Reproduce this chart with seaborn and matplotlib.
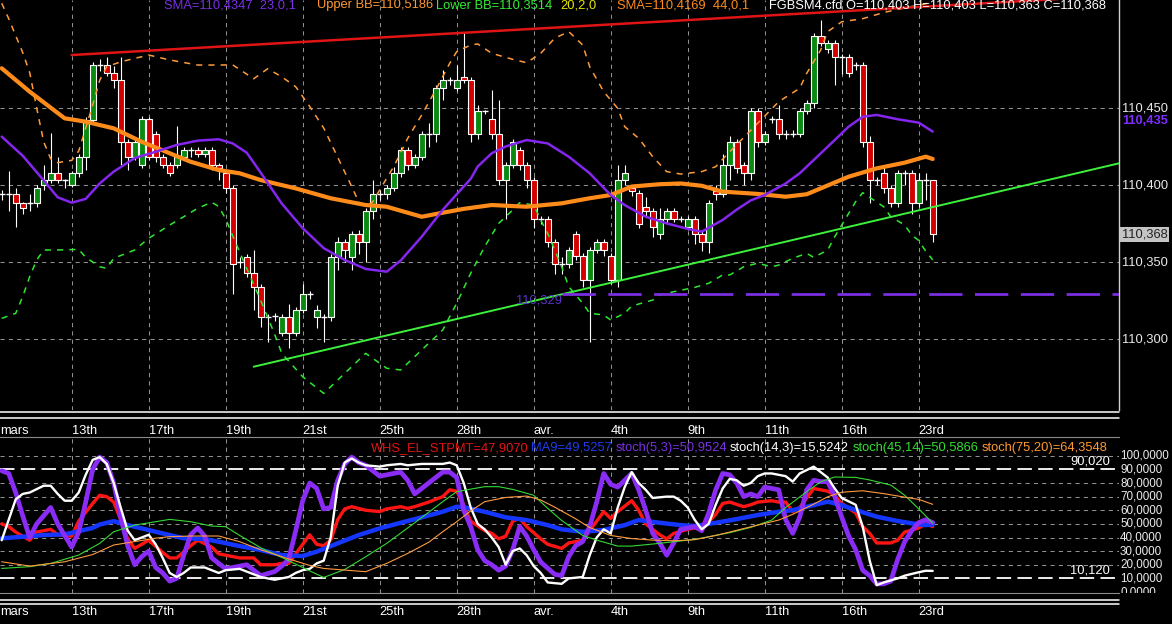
import matplotlib
matplotlib.use("Agg")
import matplotlib.pyplot as plt
import seaborn as sns
from matplotlib.lines import Line2D

# ---- candles, one per bar (bar 0 .. 133) ----
opens = [110.394, 110.394, 110.394, 110.388, 110.388, 110.388, 110.400, 110.403, 110.408, 110.403,
         110.400, 110.408, 110.418, 110.442, 110.478, 110.478, 110.473, 110.468, 110.428, 110.418,
         110.413, 110.443, 110.433, 110.418, 110.413, 110.413, 110.418, 110.423, 110.423, 110.420,
         110.423, 110.413, 110.408, 110.398, 110.350, 110.353, 110.343, 110.334, 110.314, 110.315,
         110.304, 110.314, 110.304, 110.319, 110.329, 110.314, 110.314, 110.314, 110.353, 110.363,
         110.353, 110.368, 110.363, 110.383, 110.394, 110.394, 110.398, 110.408, 110.423, 110.413,
         110.418, 110.433, 110.433, 110.463, 110.468, 110.463, 110.470, 110.468, 110.433, 110.448,
         110.443, 110.433, 110.403, 110.413, 110.423, 110.413, 110.403, 110.378, 110.378, 110.363,
         110.349, 110.349, 110.368, 110.354, 110.338, 110.358, 110.363, 110.354, 110.338, 110.403,
         110.398, 110.395, 110.386, 110.383, 110.368, 110.378, 110.383, 110.378, 110.373, 110.378,
         110.368, 110.363, 110.396, 110.394, 110.413, 110.428, 110.413, 110.408, 110.448, 110.428,
         110.443, 110.443, 110.433, 110.433, 110.433, 110.448, 110.453, 110.497, 110.488, 110.492,
         110.483, 110.483, 110.478, 110.478, 110.428, 110.403, 110.408, 110.398, 110.388, 110.408,
         110.408, 110.388, 110.403, 110.403]
closes = [110.394, 110.394, 110.388, 110.385, 110.388, 110.398, 110.403, 110.408, 110.403, 110.403,
          110.408, 110.418, 110.442, 110.478, 110.478, 110.473, 110.468, 110.428, 110.418, 110.428,
          110.443, 110.418, 110.418, 110.413, 110.408, 110.418, 110.423, 110.423, 110.420, 110.423,
          110.413, 110.411, 110.398, 110.349, 110.350, 110.343, 110.334, 110.314, 110.314, 110.315,
          110.314, 110.304, 110.319, 110.329, 110.329, 110.319, 110.314, 110.353, 110.363, 110.358,
          110.368, 110.363, 110.383, 110.394, 110.394, 110.398, 110.408, 110.423, 110.413, 110.418,
          110.433, 110.433, 110.463, 110.468, 110.468, 110.468, 110.468, 110.433, 110.448, 110.448,
          110.433, 110.403, 110.413, 110.428, 110.413, 110.403, 110.378, 110.378, 110.363, 110.349,
          110.349, 110.358, 110.354, 110.338, 110.358, 110.363, 110.358, 110.338, 110.403, 110.408,
          110.396, 110.375, 110.383, 110.373, 110.378, 110.383, 110.378, 110.378, 110.378, 110.368,
          110.363, 110.388, 110.394, 110.413, 110.428, 110.411, 110.408, 110.448, 110.428, 110.433,
          110.443, 110.433, 110.433, 110.433, 110.448, 110.453, 110.497, 110.492, 110.492, 110.483,
          110.483, 110.473, 110.478, 110.428, 110.403, 110.403, 110.398, 110.388, 110.408, 110.408,
          110.388, 110.403, 110.403, 110.368]
highs = [110.397, 110.409, 110.398, 110.389, 110.394, 110.400, 110.413, 110.434, 110.418, 110.404,
         110.409, 110.420, 110.444, 110.480, 110.482, 110.483, 110.477, 110.483, 110.430, 110.430,
         110.445, 110.444, 110.435, 110.420, 110.415, 110.438, 110.425, 110.425, 110.425, 110.425,
         110.425, 110.414, 110.410, 110.400, 110.353, 110.355, 110.358, 110.336, 110.316, 110.317,
         110.316, 110.323, 110.321, 110.336, 110.331, 110.322, 110.316, 110.355, 110.366, 110.365,
         110.370, 110.371, 110.385, 110.403, 110.397, 110.400, 110.412, 110.425, 110.425, 110.420,
         110.435, 110.440, 110.465, 110.475, 110.470, 110.478, 110.499, 110.470, 110.452, 110.449,
         110.462, 110.455, 110.415, 110.430, 110.425, 110.415, 110.405, 110.380, 110.380, 110.365,
         110.353, 110.360, 110.370, 110.356, 110.360, 110.365, 110.365, 110.356, 110.413, 110.413,
         110.400, 110.397, 110.392, 110.385, 110.385, 110.385, 110.385, 110.380, 110.380, 110.380,
         110.370, 110.390, 110.400, 110.420, 110.432, 110.430, 110.415, 110.450, 110.450, 110.435,
         110.445, 110.452, 110.436, 110.436, 110.450, 110.455, 110.499, 110.507, 110.494, 110.494,
         110.485, 110.485, 110.480, 110.480, 110.432, 110.405, 110.412, 110.400, 110.410, 110.410,
         110.410, 110.408, 110.408, 110.403]
lows = [110.390, 110.383, 110.373, 110.381, 110.383, 110.386, 110.397, 110.401, 110.401, 110.398,
        110.399, 110.405, 110.410, 110.440, 110.474, 110.471, 110.463, 110.413, 110.410, 110.416,
        110.411, 110.416, 110.415, 110.411, 110.406, 110.411, 110.416, 110.418, 110.418, 110.418,
        110.410, 110.403, 110.395, 110.329, 110.346, 110.340, 110.319, 110.308, 110.298, 110.312,
        110.302, 110.294, 110.302, 110.317, 110.326, 110.307, 110.298, 110.312, 110.345, 110.350,
        110.345, 110.355, 110.350, 110.378, 110.390, 110.391, 110.396, 110.405, 110.410, 110.411,
        110.416, 110.425, 110.428, 110.455, 110.465, 110.461, 110.466, 110.428, 110.430, 110.446,
        110.430, 110.400, 110.378, 110.411, 110.410, 110.398, 110.372, 110.375, 110.360, 110.342,
        110.342, 110.346, 110.351, 110.334, 110.298, 110.356, 110.354, 110.336, 110.334, 110.400,
        110.393, 110.372, 110.380, 110.366, 110.365, 110.375, 110.376, 110.376, 110.371, 110.362,
        110.357, 110.356, 110.390, 110.392, 110.403, 110.408, 110.400, 110.403, 110.425, 110.426,
        110.440, 110.430, 110.430, 110.431, 110.431, 110.446, 110.450, 110.490, 110.486, 110.465,
        110.472, 110.470, 110.475, 110.425, 110.388, 110.400, 110.395, 110.386, 110.386, 110.400,
        110.381, 110.386, 110.390, 110.363]

# ---- price overlays, (bar, value) ----
sma23 = [(0, 110.4314), (3, 110.419), (6, 110.403), (8, 110.392), (10, 110.3885), (12, 110.391),
         (14, 110.401), (16, 110.4087), (19, 110.4175), (22, 110.4216), (25, 110.426), (28, 110.4288),
         (31, 110.4297), (33, 110.427), (35, 110.421), (37, 110.408), (40, 110.388), (43, 110.372),
         (46, 110.359), (49, 110.3513), (52, 110.3455), (55, 110.3437), (57, 110.351), (60, 110.3664),
         (63, 110.3838), (65, 110.394), (67, 110.404), (68, 110.412), (70, 110.4206), (72, 110.425),
         (75, 110.4292), (78, 110.427), (81, 110.4184), (84, 110.4076), (87, 110.3935), (89, 110.387),
         (92, 110.3794), (95, 110.3751), (98, 110.3715), (100, 110.3697), (103, 110.3773), (105, 110.384),
         (107, 110.390), (109, 110.3935), (112, 110.401), (114, 110.4076), (116, 110.4162), (119, 110.4292),
         (121, 110.4379), (123, 110.4443), (125, 110.4455), (128, 110.4427), (131, 110.4405), (133, 110.4347)]
sma44 = [(0, 110.4758), (4, 110.4606), (9, 110.4433), (12, 110.4411), (16, 110.4368), (20, 110.4281),
         (24, 110.4206), (27, 110.4151), (31, 110.4097), (34, 110.4076), (37, 110.4032), (42, 110.3978),
         (47, 110.3914), (52, 110.387), (55, 110.3859), (60, 110.3794), (63, 110.382), (66, 110.3845),
         (70, 110.387), (75, 110.3859), (80, 110.3881), (84, 110.3914), (87, 110.3935), (90, 110.399),
         (94, 110.4005), (97, 110.401), (100, 110.3995), (103, 110.3957), (108, 110.3942), (112, 110.3924),
         (115, 110.394), (117, 110.3978), (121, 110.4054), (125, 110.4108), (129, 110.4145), (132, 110.4184),
         (133, 110.4169)]
bb_upper = [(0, 110.518), (1, 110.508), (2, 110.497), (3, 110.486), (4, 110.473), (5, 110.450),
            (6, 110.428), (7, 110.417), (8, 110.4145), (10, 110.416), (11, 110.422), (12, 110.437),
            (13, 110.452), (14, 110.468), (15, 110.4768), (17, 110.480), (21, 110.4844), (24, 110.4812),
            (28, 110.4779), (31, 110.4779), (33, 110.478), (35, 110.472), (36, 110.469), (38, 110.4755),
            (40, 110.4703), (42, 110.4638), (44, 110.451), (46, 110.437), (48, 110.418), (50, 110.399),
            (51, 110.389), (52, 110.386), (53, 110.389), (54, 110.3968), (56, 110.4119), (58, 110.4303),
            (60, 110.4455), (62, 110.4617), (64, 110.479), (65, 110.4866), (67, 110.4909), (68, 110.4916),
            (70, 110.4855), (73, 110.4816), (75, 110.4794), (77, 110.4855), (79, 110.4953), (81, 110.4996),
            (83, 110.4909), (84, 110.4768), (86, 110.4606), (88, 110.4498), (89, 110.4379), (91, 110.4303),
            (93, 110.4184), (95, 110.4087), (97, 110.4071), (100, 110.4087), (102, 110.4119), (104, 110.4216),
            (108, 110.4401), (111, 110.4541), (114, 110.4628), (115, 110.4725), (117, 110.4877),
            (118, 110.4996), (120, 110.506), (123, 110.508), (126, 110.512), (129, 110.515), (133, 110.5186)]
bb_lower = [(0, 110.3134), (2, 110.3167), (3, 110.3275), (4, 110.3405), (5, 110.3513), (6, 110.3578),
            (8, 110.3578), (11, 110.3582), (12, 110.353), (14, 110.3469), (15, 110.3459), (16, 110.3524),
            (19, 110.3578), (21, 110.3654), (24, 110.374), (26, 110.3794), (28, 110.3849), (30, 110.3888),
            (31, 110.386), (32, 110.378), (33, 110.367), (35, 110.3459), (37, 110.325), (39, 110.303),
            (40, 110.2907), (43, 110.2755), (46, 110.2647), (49, 110.2777), (52, 110.2907), (55, 110.281),
            (57, 110.2799), (60, 110.2929), (63, 110.3058), (65, 110.3232), (67, 110.3427), (69, 110.36),
            (71, 110.3751), (73, 110.3838), (74, 110.3885), (76, 110.387), (77, 110.3773), (78, 110.3686),
            (79, 110.3578), (80, 110.3469), (81, 110.334), (83, 110.3232), (84, 110.3167), (86, 110.3156),
            (87, 110.3123), (89, 110.3167), (90, 110.3214), (93, 110.3253), (94, 110.3286), (96, 110.3307),
            (99, 110.3335), (101, 110.3362), (103, 110.3416), (104, 110.3416), (106, 110.3469), (108, 110.3492),
            (110, 110.3469), (111, 110.348), (113, 110.3524), (115, 110.3556), (116, 110.353), (118, 110.3578),
            (119, 110.3664), (120, 110.374), (121, 110.3816), (122, 110.3892), (123, 110.395), (124, 110.392),
            (126, 110.3859), (127, 110.3794), (129, 110.374), (130, 110.3675), (131, 110.364), (132, 110.357),
            (133, 110.3514)]
trend_high = [(10, 110.4844), (160, 110.5231)]
trend_low = [(36, 110.282), (160, 110.4145)]
support_level = 110.329
support_start = 80

# ---- oscillator panel, (bar, value) ----
stpmt = [(0, 50), (1, 48), (2, 44), (4, 38), (5, 44), (7, 46), (8, 42), (10, 41), (11, 52), (13, 65),
         (14, 71), (15, 70), (16, 66), (17, 53), (18, 39), (19, 32), (20, 35), (21, 38), (23, 29), (24, 25),
         (25, 25), (27, 34), (28, 38), (30, 33), (31, 28), (33, 26), (34, 25), (36, 25), (37, 20), (39, 20),
         (40, 21), (41, 21), (42, 28), (44, 42), (45, 35), (46, 34), (47, 38), (48, 53), (49, 61), (50, 62.6),
         (52, 60), (54, 59), (55, 61), (57, 62.6), (58, 61.4), (59, 62.6), (61, 66), (63, 70), (64, 75),
         (65, 74), (66, 64), (67, 52), (69, 45), (70, 43), (71, 39), (72, 41), (73, 52), (74, 54), (75, 48),
         (77, 39), (78, 35), (80, 32), (81, 36), (83, 38), (84, 45), (86, 59), (87, 54), (88, 59), (90, 67),
         (91, 60), (92, 50), (94, 42), (95, 39), (96, 43), (98, 46), (99, 47), (100, 45.5), (102, 57),
         (103, 65), (104, 66), (106, 62.6), (107, 64), (108, 66), (110, 67), (111, 66), (112, 66), (113, 59),
         (114, 62), (115, 69), (116, 76), (118, 74), (119, 71), (120, 65), (122, 58), (123, 48), (124, 43),
         (125, 36), (127, 36), (128, 38), (129, 44), (131, 47), (132, 50), (133, 48)]
ma9 = [(0, 39.4), (3, 40.6), (6, 41.8), (9, 42.3), (13, 47), (14, 49.5), (16, 52), (18, 49.1), (20, 46.7),
       (23, 43), (26, 39.4), (29, 38.9), (31, 36.9), (34, 33.7), (37, 30.8), (40, 27.1), (43, 26.4),
       (45, 29.6), (48, 35.7), (51, 41.8), (54, 46.7), (57, 50.8), (60, 54.8), (63, 58.9), (65, 62.6),
       (66, 62.3), (69, 58.9), (72, 54.8), (75, 52.8), (78, 49.1), (80, 46), (83, 44.2), (86, 45.5),
       (89, 49.1), (91, 52.8), (94, 50.8), (97, 49.1), (99, 48.4), (102, 50.8), (105, 53.5), (108, 56.5),
       (111, 58.9), (113, 60.1), (116, 63.8), (118, 66.3), (120, 63.8), (122, 60.1), (125, 55.3),
       (128, 52.1), (130, 50.4), (132, 49.1), (133, 49.5)]
stoch5 = [(0, 89), (1, 87), (2, 73), (3, 56), (4, 40), (5, 50), (7, 62), (8, 50), (10, 33), (11, 44),
          (12, 66), (13, 90), (14, 99), (15, 95), (16, 80), (17, 55), (18, 34), (19, 20), (20, 26), (21, 30),
          (22, 18), (23, 14), (24, 8), (25, 10), (26, 27), (27, 42), (28, 47), (29, 41), (30, 25), (32, 17),
          (34, 19), (35, 20), (37, 12), (39, 15), (40, 19), (41, 24), (42, 45), (43, 67), (44, 80), (45, 76),
          (46, 61), (47, 62), (48, 82), (49, 94), (50, 99), (51, 95), (52, 93), (54, 85), (55, 86), (57, 88),
          (58, 82), (59, 72), (60, 76), (62, 84), (63, 88), (64, 88), (65, 84), (66, 60), (67, 48), (68, 31),
          (69, 23), (70, 20), (71, 16), (72, 19), (73, 31), (74, 48), (75, 41), (76, 31), (77, 22), (79, 13),
          (80, 12), (81, 26), (82, 34), (83, 37), (84, 48), (85, 66), (86, 87), (87, 79), (88, 77), (89, 82),
          (90, 87), (91, 75), (92, 60), (93, 43), (94, 36), (95, 27), (96, 36), (97, 46), (99, 48), (100, 45),
          (101, 58), (102, 75), (103, 87), (104, 86), (105, 80), (106, 70), (107, 72), (108, 70), (109, 77),
          (110, 76), (111, 75), (112, 53), (113, 43), (114, 55), (115, 75), (116, 82), (117, 81), (118, 81),
          (119, 70), (120, 55), (121, 41), (122, 31), (123, 16), (124, 12), (125, 6), (126, 6), (127, 8),
          (128, 24), (129, 37), (130, 45), (131, 51), (132, 53), (133, 51)]
stoch14 = [(0, 38), (1, 53), (2, 68), (3, 72), (4, 73), (6, 78), (7, 78), (8, 72), (9, 67), (10, 67),
           (11, 73), (12, 86), (13, 97), (14, 99), (15, 94), (16, 80), (17, 62), (18, 45), (19, 38), (20, 40),
           (21, 42), (22, 35), (23, 25), (24, 14), (25, 11), (26, 14), (27, 18), (29, 18), (30, 16), (31, 14),
           (32, 16), (34, 17), (35, 15), (37, 11), (39, 9), (40, 10), (41, 11), (42, 14), (43, 16), (44, 17),
           (45, 21), (46, 23), (47, 40), (48, 78), (49, 95), (50, 98), (51, 95), (52, 93), (54, 92), (55, 93),
           (57, 94), (58, 93), (60, 94), (61, 94), (63, 94), (64, 95), (65, 93), (66, 80), (67, 62), (68, 50),
           (69, 46), (70, 40), (71, 33), (72, 20), (73, 30), (74, 32), (75, 27), (76, 19), (77, 14), (78, 7),
           (80, 6), (81, 10), (83, 11), (84, 27), (85, 40), (86, 46), (87, 43), (88, 62), (89, 77), (90, 88),
           (91, 80), (92, 75), (93, 69), (95, 70), (96, 70), (97, 67), (98, 62), (99, 53), (100, 46), (101, 50),
           (102, 64), (103, 76), (104, 83), (105, 82), (106, 78), (107, 80), (108, 85), (109, 87), (110, 87),
           (112, 85), (113, 81), (114, 87), (116, 92), (117, 88), (118, 84), (119, 76), (120, 69), (122, 64),
           (123, 48), (124, 23), (125, 5), (126, 7), (128, 10), (129, 12), (131, 14.5), (132, 15.6), (133, 15.5)]
stoch45 = [(0, 17.3), (4, 18.6), (7, 21), (11, 27.1), (14, 35.7), (16, 44.2), (19, 49.1), (22, 51.6),
           (24, 53.3), (27, 51.6), (30, 48.4), (32, 47.9), (34, 41.5), (37, 32.5), (41, 23), (44, 15.5),
           (46, 10.7), (49, 16.5), (52, 25.9), (55, 35.7), (58, 47), (61, 58.5), (63, 66.3), (65, 73.6),
           (67, 75.5), (69, 77.3), (71, 77.3), (73, 75.3), (76, 71), (78, 61.4), (80, 52.5), (83, 41.5),
           (85, 38.1), (88, 33.7), (90, 33.7), (93, 35.2), (96, 36.9), (99, 38.6), (101, 40.6), (104, 43.5),
           (107, 47.4), (110, 52.8), (112, 62), (115, 73.6), (117, 80.9), (119, 84.4), (122, 84.1),
           (124, 82.2), (127, 78.5), (129, 71), (131, 61), (133, 50.6)]
stoch75 = [(0, 22.2), (4, 19), (9, 22.2), (13, 27.5), (16, 34.5), (19, 37), (22, 39.5), (24, 40.6),
           (27, 41.1), (31, 41.1), (34, 36.9), (37, 31), (41, 24.3), (44, 19.5), (46, 17.3), (49, 16.1),
           (52, 14.9), (55, 21), (58, 28.3), (61, 36.5), (63, 44.2), (65, 51.6), (67, 59.5), (69, 66.3),
           (72, 69.4), (75, 70.4), (77, 67.5), (79, 62.3), (82, 53.7), (84, 47.3), (87, 41.5), (90, 39.2),
           (93, 38.1), (96, 37.6), (99, 38.4), (102, 41.5), (105, 45.3), (108, 49.1), (111, 52.8), (113, 57),
           (116, 64.5), (118, 69.9), (120, 73.2), (123, 74.3), (126, 72.2), (129, 69.6), (131, 68),
           (133, 64.35)]
osc_high, osc_low = 90.02, 10.12

# ---- axis text ----
date_bars = [-1, 10, 21, 32, 43, 54, 65, 76, 87, 98, 109, 120, 131]
date_labels = ['mars', '13th', '17th', '19th', '21st', '25th', '28th', 'avr.', '4th', '9th', '11th',
               '16th', '23rd']
price_grid = [110.300, 110.350, 110.400, 110.450]
price_labels = ['110,300', '110,350', '110,400', '110,450']
osc_ticks = [0, 10, 20, 30, 40, 50, 60, 70, 80, 90, 100]
osc_grid = [20, 30, 40, 50, 60, 70, 80, 100]

sns.set_theme(style="dark", rc={"axes.facecolor": "black", "figure.facecolor": "black"})
plt.rcParams['font.family'] = ['Liberation Sans', 'DejaVu Sans']

W, H = 1172, 624
fig = plt.figure(figsize=(W / 100, H / 100), dpi=100)
fig.patch.set_facecolor('black')
ax = fig.add_axes([0, 1 - 410 / H, 1119 / W, 410 / H])
axb = fig.add_axes([0, 1 - 593 / H, 1119 / W, 156 / H])
axl = fig.add_axes([1119 / W, 1 - 593 / H, 53 / W, 156 / H])

xlim = (-1.7 / 7, (1119 - 1.7) / 7)
grid_kw = dict(color='#8f8f8f', lw=0.75, ls=(0, (4, 4)), zorder=0)
FS = 9.3


def line(a, pts, color, lw, ls='-', z=4):
    xs = [p[0] for p in pts]
    ys = [p[1] for p in pts]
    sns.lineplot(x=xs, y=ys, ax=a, color=color, linewidth=lw, linestyle=ls,
                 errorbar=None, zorder=z)


# ---------------- price panel ----------------
for p in price_grid:
    ax.axhline(p, **grid_kw)
for b in date_bars:
    ax.axvline(b, **grid_kw)

idx = list(range(len(opens)))
ax.vlines(idx, lows, highs, color='white', lw=0.8, zorder=2)
up = [i for i in idx if closes[i] > opens[i]]
dn = [i for i in idx if closes[i] < opens[i]]
dj = [i for i in idx if closes[i] == opens[i]]
ax.bar(up, [closes[i] - opens[i] for i in up], bottom=[opens[i] for i in up], width=0.8,
       color='#0b8a12', edgecolor='white', linewidth=0.8, zorder=3)
ax.bar(dn, [opens[i] - closes[i] for i in dn], bottom=[closes[i] for i in dn], width=0.8,
       color='#d40000', edgecolor='white', linewidth=0.8, zorder=3)
ax.hlines([opens[i] for i in dj], [i - 0.45 for i in dj], [i + 0.45 for i in dj],
          color='white', lw=1.0, zorder=3)

line(ax, bb_upper, '#ff9a3a', 1.1, (0, (4, 4)))
line(ax, bb_lower, '#2ee82e', 1.1, (0, (4, 4)))
line(ax, sma44, '#ff8c1a', 3.0)
line(ax, sma23, '#8426ee', 1.8)
line(ax, trend_high, '#e01414', 1.8)
line(ax, trend_low, '#3cf03c', 1.4)
ax.hlines(support_level, support_start, xlim[1] + 1, color='#7a2fe0', lw=2.0,
          linestyles=(0, (12, 4.5)), zorder=4)
ax.text(73.5, 110.3247, '110,329', color='#5a35c8', fontsize=FS, ha='left', va='center', zorder=5)

ax.set_xlim(*xlim)
ax.set_ylim(110.2539, 110.52013)
ax.set_xticks([])
ax.set_yticks([])
for s in ['top', 'left', 'bottom']:
    ax.spines[s].set_visible(False)
ax.spines['right'].set_color('#d0d0d0')
ax.spines['right'].set_linewidth(1.0)

yt = ax.get_yaxis_transform()
for p, lab in zip(price_grid, price_labels):
    ax.text(1.0027, p, lab, transform=yt, color='#e8e8e8', fontsize=FS, ha='left', va='center',
            clip_on=False)
ax.text(1.0027, 110.4416, '110,435', transform=yt, color='#7f2cff', fontsize=FS, fontweight='bold',
        ha='left', va='center', clip_on=False)
ax.text(1.0027, closes[-1], '110,368', transform=yt, color='#202020', fontsize=FS, ha='left',
        va='center', clip_on=False,
        bbox=dict(boxstyle='square,pad=0.12', facecolor='#c4c4c4', edgecolor='none'))

xt = ax.get_xaxis_transform()
for b, lab in zip(date_bars, date_labels):
    ax.text(max(b, -0.2), (410 - 434) / 410, lab, transform=xt, color='white', fontsize=FS,
            ha='left', va='baseline', clip_on=False)

# ---------------- oscillator panel ----------------
for v in osc_grid:
    axb.axhline(v, **grid_kw)
for b in date_bars:
    axb.axvline(b, **grid_kw)
for lv in (osc_high, osc_low):
    axb.axhline(lv, color='white', lw=1.3, ls=(0, (8, 3.5)), zorder=1)

line(axb, stpmt, '#ff1414', 2.4, z=4)
line(axb, ma9, '#1436ff', 3.2, z=5)
line(axb, stoch5, '#8a2cf6', 3.4, z=6)
line(axb, stoch14, '#ffffff', 1.7, z=7)
line(axb, stoch45, '#34d834', 0.8, z=8)
line(axb, stoch75, '#ff9a40', 0.8, z=8)

axb.text(158.3, osc_high + 5.6, '90,020', color='white', fontsize=FS, ha='right', va='center')
axb.text(158.3, osc_low + 5.6, '10,120', color='white', fontsize=FS, ha='right', va='center')

axb.set_xlim(*xlim)
axb.set_ylim(-0.73, 113.76)
axb.set_xticks([])
axb.set_yticks([])
for s in ['left', 'right']:
    axb.spines[s].set_visible(False)
for s in ['top', 'bottom']:
    axb.spines[s].set_color('#8a8a8a')
    axb.spines[s].set_linewidth(0.8)

xtb = axb.get_xaxis_transform()
for b, lab in zip(date_bars, date_labels):
    axb.text(max(b, -0.2), (593 - 615) / 156, lab, transform=xtb, color='white', fontsize=FS,
             ha='left', va='baseline', clip_on=False)

axl.set_xlim(0, 1)
axl.set_ylim(-0.73, 113.76)
axl.axis('off')
for v in osc_ticks:
    t = axl.text(0.02, v, f'{v},0000', color='#ececec', fontsize=8.4, ha='left', va='center')
    t.set_clip_on(True)
    t.set_clip_box(axl.bbox)

# panel legends
legend_top = [(163.8, 'SMA=110,4347  23,0,1', '#7a2fe8'),
              (317, 'Upper BB=110,5186', '#ff9933'),
              (436, 'Lower BB=110,3514', '#33ee33'),
              (560.6, '20,2,0', '#e8e800'),
              (617, 'SMA=110,4169  44,0,1', '#ff8c1a'),
              (768.7, 'FGBSM4.cfd O=110,403 H=110,403 L=110,363 C=110,368', '#ffffff')]
for x, s, c in legend_top:
    fig.text(x / W, 1 - 8 / H, s, color=c, fontsize=FS, ha='left', va='baseline')

legend_bot = [(370.5, 'WHS_EL_STPMT=47,9070', '#e41414'),
              (531, 'MA9=49,5257', '#1e3cf0'),
              (616, 'stoch(5,3)=50,9524', '#7a30e4'),
              (730, 'stoch(14,3)=15,5242', '#ffffff'),
              (852.5, 'stoch(45,14)=50,5866', '#33dd33'),
              (982, 'stoch(75,20)=64,3548', '#ff9933')]
for x, s, c in legend_bot:
    fig.text(x / W, 1 - 451 / H, s, color=c, fontsize=FS, ha='left', va='baseline', zorder=10)

# separators between panels
for ypx in (411.5, 418, 599.5, 603.5):
    fig.add_artist(Line2D([0, 1119 / W], [1 - ypx / H] * 2, color='white', lw=1.1))

fig.savefig('out.png', dpi=100, facecolor='black')
